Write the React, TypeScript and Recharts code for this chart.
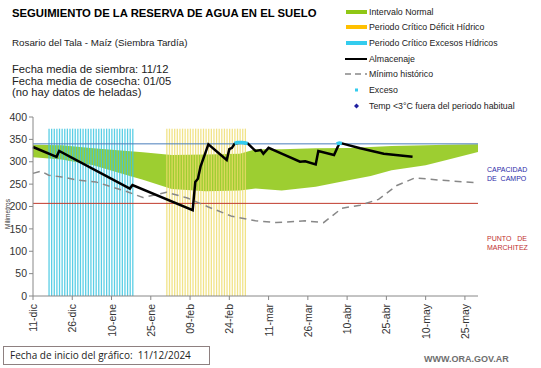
import { ComposedChart, Area, Bar, Line, XAxis, YAxis, ReferenceLine } from 'recharts';

// días desde el 11-dic (día 0) hasta el 30-may (día 170)
const DIA_FINAL = 170;
const X_TICKS = [0, 15, 30, 45, 60, 75, 90, 105, 120, 135, 150, 165];
const X_LABELS = ['11-dic', '26-dic', '10-ene', '25-ene', '09-feb', '24-feb', '11-mar', '26-mar', '10-abr', '25-abr', '10-may', '25-may'];
const Y_TICKS = [0, 50, 100, 150, 200, 250, 300, 350, 400];

const CAPACIDAD_CAMPO = 340;
const PUNTO_MARCHITEZ = 207;

// periodos críticos [desde, hasta] en días y altura de las franjas
const CRITICO_EXCESOS = [6, 38];
const CRITICO_DEFICIT = [51, 81];
const ALTURA_CRITICO = 374;

// intervalo normal: [día, mínimo, máximo]
const INTERVALO_NORMAL: [number, number, number][] = [
  [0, 310, 338], [11, 305, 337], [23, 292, 330], [36, 270, 324], [42, 260, 321],
  [53, 239, 315], [66, 234, 316], [79, 236, 318], [85, 240, 328], [95, 236, 328],
  [108, 244, 330], [121, 259, 331], [129, 268, 333], [137, 281, 335], [150, 292, 337],
  [158, 304, 338], [170, 322, 339],
];

// almacenaje: [día, mm]
const ALMACENAJE: [number, number][] = [
  [0, 333], [9, 311], [10, 324], [37, 240], [38, 248], [61, 192], [62, 255], [63, 262],
  [64, 289], [67, 339], [74, 304], [75, 328], [76, 331], [77, 340], [78, 342], [80, 343],
  [82, 341], [85, 324], [87, 326], [88, 318], [90, 331], [95, 318], [102, 300], [104, 301],
  [108, 294], [109, 324], [115, 315], [117, 341], [118, 341], [125, 330], [134, 318], [145, 311],
];

// mínimo histórico: [día, mm]
const MINIMO_HISTORICO: [number, number][] = [
  [0, 274], [3, 279], [6, 270], [11, 266], [17, 259], [24, 255], [30, 244], [36, 233],
  [42, 220], [46, 225], [51, 232], [59, 219], [67, 199], [76, 178], [85, 168], [93, 164],
  [104, 168], [111, 164], [118, 196], [125, 203], [132, 216], [139, 247], [146, 264],
  [155, 259], [170, 253],
];

// exceso: [día, mm]
const EXCESO: [number, number][] = [
  [77, 341], [78, 343], [79, 343], [80, 343], [81, 342], [82, 341],
  [116, 340], [117, 342], [118, 341],
];

type Row = {
  day: number;
  normal?: [number, number];
  almacenaje?: number;
  minimo?: number;
  exceso?: number;
  excesoBar?: number;
  deficitBar?: number;
};

const rows: Row[] = [];
for (let d = 0; d <= DIA_FINAL; d++) {
  const r: Row = { day: d };
  if (d >= CRITICO_EXCESOS[0] && d <= CRITICO_EXCESOS[1]) r.excesoBar = ALTURA_CRITICO;
  if (d >= CRITICO_DEFICIT[0] && d <= CRITICO_DEFICIT[1]) r.deficitBar = ALTURA_CRITICO;
  rows.push(r);
}
INTERVALO_NORMAL.forEach(([d, lo, hi]) => { rows[d].normal = [lo, hi]; });
ALMACENAJE.forEach(([d, v]) => { rows[d].almacenaje = v; });
MINIMO_HISTORICO.forEach(([d, v]) => { rows[d].minimo = v; });
EXCESO.forEach(([d, v]) => { rows[d].exceso = v; });

const GREEN = '#8FC715';
const CYAN = '#3EC6E0';
const YELLOW = '#EEDC6A';
const FONT = '"Liberation Sans", Arial, sans-serif';

const XTick = ({ x, y, payload }: any) => {
  const i = X_TICKS.indexOf(payload.value);
  return (
    <text x={x} y={y} transform={`rotate(-90 ${x} ${y})`} textAnchor="end" dominantBaseline="central"
      fontSize={10.5} fill="#333" fontFamily={FONT}>
      {X_LABELS[i]}
    </text>
  );
};

const legendItems = [
  { label: 'Intervalo Normal', kind: 'band', color: GREEN },
  { label: 'Periodo Crítico Déficit Hídrico', kind: 'band', color: '#FFC000' },
  { label: 'Periodo Crítico Excesos Hídricos', kind: 'band', color: '#33CCEE' },
  { label: 'Almacenaje', kind: 'line', color: '#000' },
  { label: 'Mínimo histórico', kind: 'dash', color: '#888' },
  { label: 'Exceso', kind: 'dot', color: '#33CCEE' },
  { label: 'Temp <3°C fuera del periodo habitual', kind: 'diamond', color: '#1F1FA0' },
];

const Swatch = ({ kind, color }: { kind: string; color: string }) => (
  <svg width={24} height={8} style={{ flexShrink: 0 }}>
    {kind === 'band' && <rect x={1} y={2} width={21} height={4} fill={color} />}
    {kind === 'line' && <line x1={0} y1={4} x2={22} y2={4} stroke={color} strokeWidth={2} />}
    {kind === 'dash' && <line x1={0} y1={4} x2={22} y2={4} stroke={color} strokeWidth={1.5} strokeDasharray="6 4" />}
    {kind === 'dot' && <rect x={10} y={2.5} width={3} height={3} fill={color} />}
    {kind === 'diamond' && <polygon points="11.5,1.5 14,4 11.5,6.5 9,4" fill={color} />}
  </svg>
);

export default function App() {
  return (
    <div style={{ position: 'absolute', left: 0, top: 0, width: 541, height: 368, background: '#fff', fontFamily: FONT, overflow: 'hidden' }}>
      <ComposedChart width={541} height={368} data={rows}
        margin={{ top: 117, right: 63, bottom: 32, left: 3 }}>
        <XAxis dataKey="day" type="number" domain={[0, DIA_FINAL]} ticks={X_TICKS} interval={0}
          tick={<XTick />} tickSize={4} tickMargin={4} height={40}
          axisLine={{ stroke: '#888' }} tickLine={{ stroke: '#888' }} />
        <YAxis type="number" domain={[0, 400]} ticks={Y_TICKS} interval={0} width={30} tickSize={4}
          tick={{ fontSize: 10.5, fill: '#333', fontFamily: FONT }}
          axisLine={{ stroke: '#888' }} tickLine={{ stroke: '#888' }} />
        <Area dataKey="normal" type="linear" stroke="none" fill={GREEN} fillOpacity={0.88}
          connectNulls isAnimationActive={false} />
        <Bar dataKey="excesoBar" stackId="critico" fill={CYAN} fillOpacity={0.85} barSize={1.3} isAnimationActive={false} />
        <Bar dataKey="deficitBar" stackId="critico" fill={YELLOW} fillOpacity={0.8} barSize={1.3} isAnimationActive={false} />
        <ReferenceLine y={CAPACIDAD_CAMPO} stroke="#4A7EBB" strokeWidth={1} />
        <ReferenceLine y={PUNTO_MARCHITEZ} stroke="#C0392B" strokeWidth={1} />
        <Line dataKey="minimo" type="linear" stroke="#888" strokeWidth={1.5} strokeDasharray="7 5"
          dot={false} connectNulls isAnimationActive={false} />
        <Line dataKey="almacenaje" type="linear" stroke="#000" strokeWidth={2.5}
          dot={false} connectNulls isAnimationActive={false} />
        <Line dataKey="exceso" type="linear" stroke="#33CCEE" strokeWidth={3.5}
          dot={false} isAnimationActive={false} />
      </ComposedChart>

      <div style={{ position: 'absolute', left: 12, top: 7, fontSize: 11.3, fontWeight: 'bold', color: '#000', whiteSpace: 'nowrap' }}>
        SEGUIMIENTO DE LA RESERVA DE AGUA EN EL SUELO
      </div>
      <div style={{ position: 'absolute', left: 12, top: 37, fontSize: 9.8, color: '#222', whiteSpace: 'nowrap' }}>
        Rosario del Tala - Maíz (Siembra Tardía)
      </div>
      <div style={{ position: 'absolute', left: 12, top: 64, fontSize: 11.2, lineHeight: '11.6px', color: '#222', whiteSpace: 'nowrap' }}>
        <div>Fecha media de siembra: 11/12</div>
        <div>Fecha media de cosecha: 01/05</div>
        <div>(no hay datos de heladas)</div>
      </div>

      {legendItems.map((it, i) => (
        <div key={it.label} style={{ position: 'absolute', left: 345, top: 5.5 + i * 15.7, height: 12, display: 'flex', alignItems: 'center', fontSize: 8.8, color: '#222', whiteSpace: 'nowrap' }}>
          <Swatch kind={it.kind} color={it.color} />
          <span style={{ marginLeft: 0 }}>{it.label}</span>
        </div>
      ))}

      <div style={{ position: 'absolute', left: 2, top: 214, transform: 'translate(0, -50%) rotate(-90deg)', transformOrigin: 'center', fontSize: 6.5, color: '#333', width: 10, display: 'flex', justifyContent: 'center' }}>
        <span style={{ whiteSpace: 'nowrap' }}>Milímetros</span>
      </div>

      <div style={{ position: 'absolute', left: 487, top: 165, fontSize: 7, lineHeight: '9px', color: '#2B2BA8', whiteSpace: 'nowrap' }}>
        CAPACIDAD<br />DE&nbsp; CAMPO
      </div>
      <div style={{ position: 'absolute', left: 487, top: 234, fontSize: 7, lineHeight: '9px', color: '#C0302F', whiteSpace: 'nowrap' }}>
        PUNTO&nbsp;&nbsp; DE<br />MARCHITEZ
      </div>

      <div style={{ position: 'absolute', left: 3, top: 346, width: 207, height: 19, border: '1px solid #8E8080', boxSizing: 'border-box', fontFamily: '"Open Sans", Calibri, sans-serif', fontSize: 10, lineHeight: '17px', paddingLeft: 6, color: '#222', whiteSpace: 'nowrap' }}>
        Fecha de inicio del gráfico:&nbsp; 11/12/2024
      </div>
      <div style={{ position: 'absolute', left: 424, top: 354, fontSize: 9, fontWeight: 'bold', color: '#6E6E6E', whiteSpace: 'nowrap' }}>
        WWW.ORA.GOV.AR
      </div>
    </div>
  );
}
